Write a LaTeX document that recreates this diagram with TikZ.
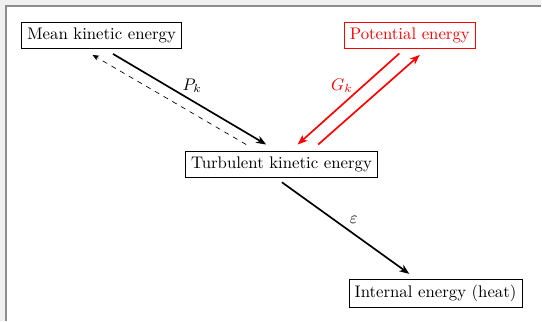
\documentclass[tikz,border=0pt]{standalone}
\usepackage{tikz}
\usetikzlibrary{positioning, arrows.meta, calc}
\definecolor{cFrame}{RGB}{140,140,140}
\definecolor{cPad}{RGB}{240,240,240}

\begin{document}
\begin{tikzpicture}[thick, >={Stealth[length=6pt, width=4.6pt, inset=1.8pt]},
                    box/.style={draw, thin, rectangle, inner sep=3.3pt},
                    flow/.style={->, line width=1pt},
                    back/.style={->, thin, dashed, >={Stealth[length=3.8pt, width=3.2pt, inset=1pt]}}]

    % Frame
    \fill[cPad] (0,0) rectangle (11.34,-6.72);
    \fill[white] (0.13,-0.13) rectangle (11.34,-6.72);
    \draw[cFrame, line width=1.2pt] (0.13,-6.72) -- (0.13,-0.13) -- (11.34,-0.13);
    \useasboundingbox (0,0) rectangle (11.34,-6.72);

    % Nodes
    \node[box] (MKE) at (2.13,-0.74) {Mean kinetic energy};
    \node[box, draw=red, text=red] (PE) at (8.59,-0.74) {Potential energy};
    \node[box] (TKE) at (5.90,-3.44) {Turbulent kinetic energy};
    \node[box] (IE) at (9.13,-6.14) {Internal energy (heat)};

    % Transitions
    \draw[flow] ([shift={(0.24,-0.11)}]MKE.south) -- node[above, xshift=1.5pt] {$P_k$} ([shift={(-0.32,0.13)}]TKE.north);
    \draw[back] ([shift={(-0.74,0.13)}]TKE.north) -- ([shift={(-0.19,-0.13)}]MKE.south);
    \draw[flow, red] ([shift={(-0.22,-0.10)}]PE.south) -- node[above, xshift=-4pt] {$G_k$} ([shift={(0.34,0.13)}]TKE.north);
    \draw[flow, red] ([shift={(0.77,0.13)}]TKE.north) -- ([shift={(0.21,-0.13)}]PE.south);
    \draw[flow] ([shift={(0.01,-0.10)}]TKE.south) -- node[above right, inner sep=2pt] {$\varepsilon$} ([shift={(-0.55,0.10)}]IE.north);

\end{tikzpicture}
\end{document}
